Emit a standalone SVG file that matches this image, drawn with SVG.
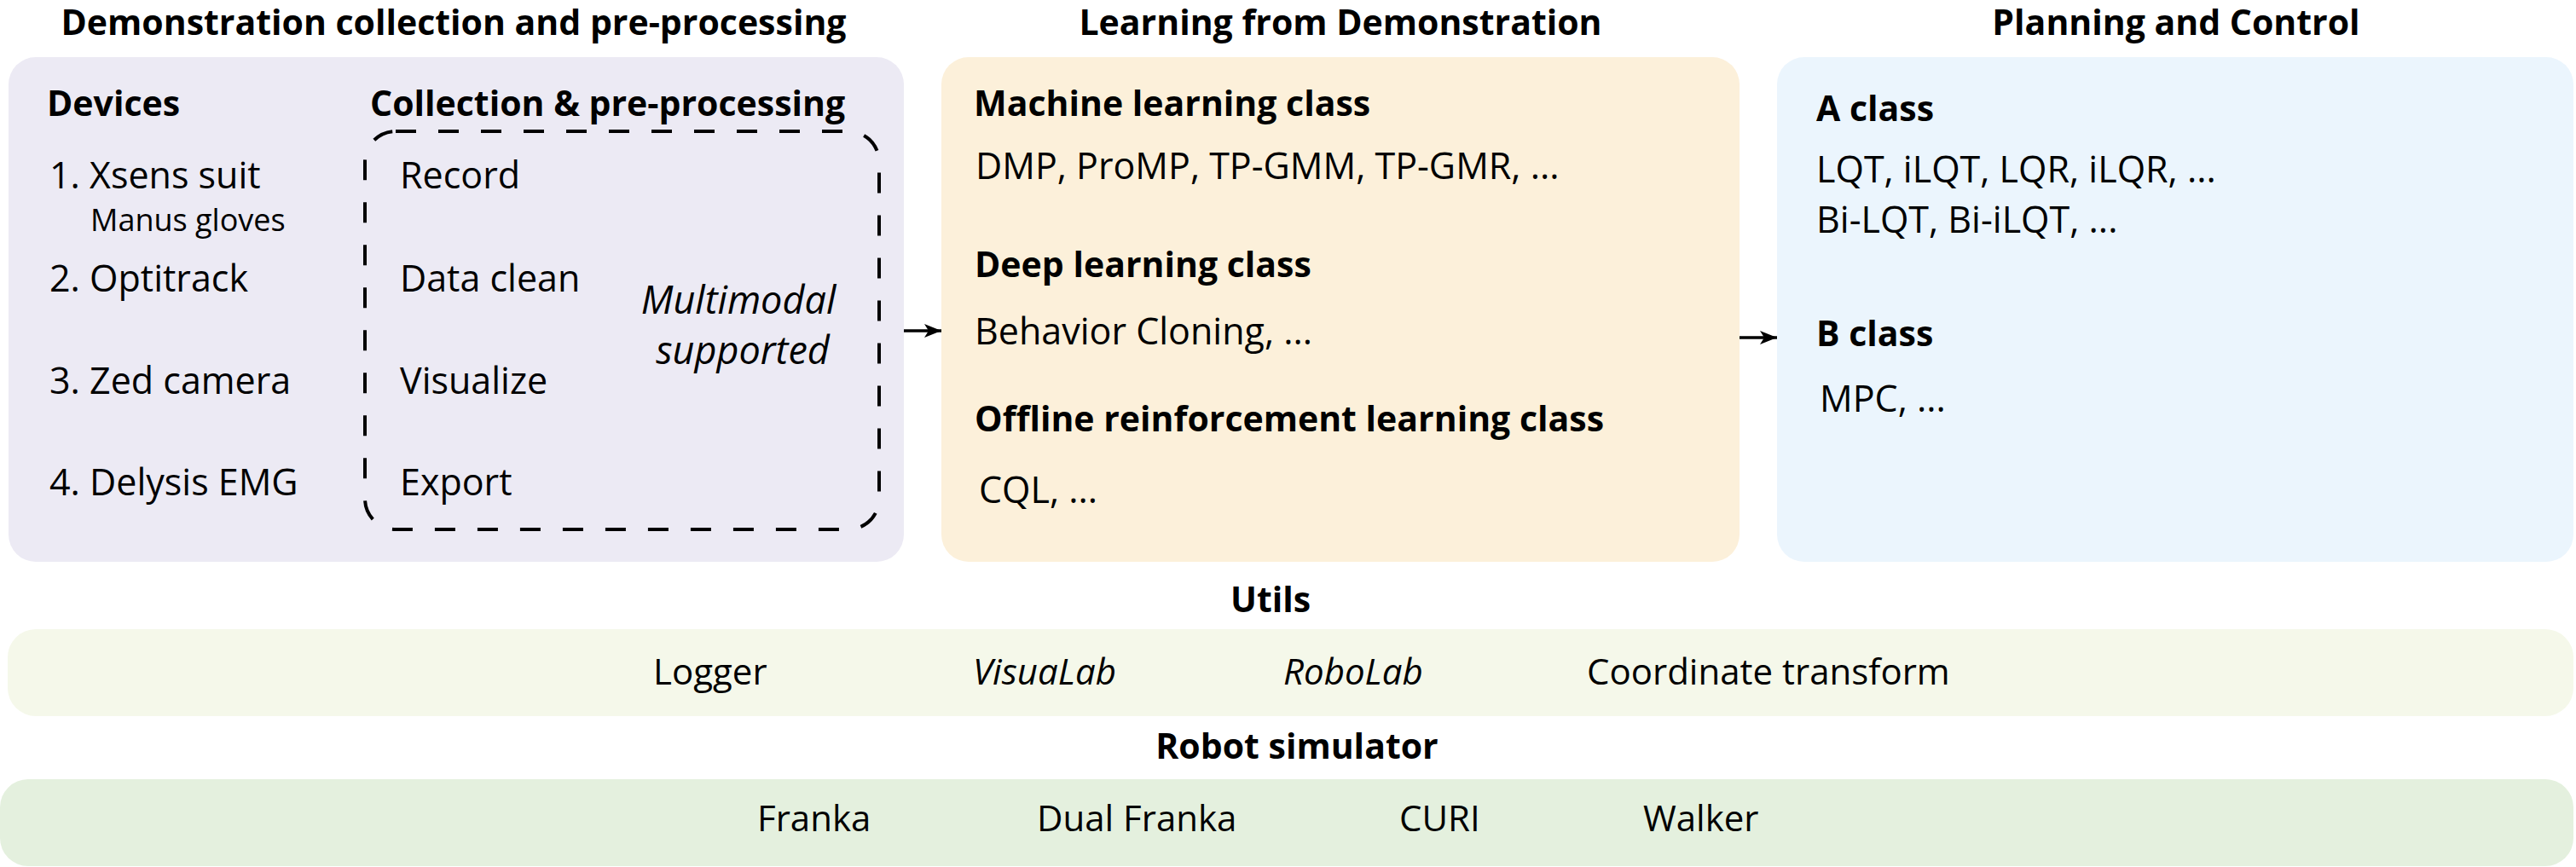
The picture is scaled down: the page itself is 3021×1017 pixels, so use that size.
<svg xmlns="http://www.w3.org/2000/svg" width="3021" height="1017" viewBox="0 0 3021 1017">
<defs>
<style>
text{font-family:"Open Sans",Lato,"Liberation Sans",sans-serif;fill:#000}
.h{font-weight:bold;font-size:41px}
.t{font-size:43px}
.s{font-size:36px}
.b{font-size:42px}
.i{font-style:italic}
.mi{font-style:italic;font-size:45px}
.m{text-anchor:middle}
.conn{stroke:#000;stroke-width:3.5;fill:none}
</style>
<marker id="ah" viewBox="0 0 20 16" refX="20" refY="8" markerWidth="20" markerHeight="16" markerUnits="userSpaceOnUse" orient="auto">
<path d="M0,0 L20,8 L0,16 L5,8 Z" fill="#000"/>
</marker>
</defs>
<rect width="3021" height="1017" fill="#fff"/>
<g id="title-collection"><text class="h m" x="532" y="41">Demonstration collection and pre-processing</text></g>
<g id="title-lfd"><text class="h m" x="1572" y="41">Learning from Demonstration</text></g>
<g id="title-planning"><text class="h m" x="2552" y="41">Planning and Control</text></g>
<g id="collection">
<rect x="10" y="67" width="1050" height="592" rx="32" fill="#ECEAF4"/>
<text class="h" x="55" y="136">Devices</text>
<text class="h" x="434" y="136">Collection &amp; pre-processing</text>
<text class="t" x="58" y="221">1. Xsens suit</text>
<text class="s" x="106" y="271">Manus gloves</text>
<text class="t" x="58" y="342">2. Optitrack</text>
<text class="t" x="58" y="462">3. Zed camera</text>
<text class="t" x="58" y="581">4. Delysis EMG</text>
<g id="preprocessing">
<rect x="428" y="154" width="603" height="467" rx="36" fill="none" stroke="#000" stroke-width="4" stroke-dasharray="24 26"/>
<text class="t" x="469" y="221">Record</text>
<text class="t" x="469" y="342">Data clean</text>
<text class="t" x="469" y="462">Visualize</text>
<text class="t" x="469" y="581">Export</text>
<text class="mi m" x="866" y="368">Multimodal</text>
<text class="mi m" x="871" y="427">supported</text>
</g>
</g>
<g id="lfd">
<rect x="1104" y="67" width="936" height="592" rx="32" fill="#FCF0DA"/>
<text class="h" x="1142" y="136">Machine learning class</text>
<text class="t" x="1144" y="210">DMP, ProMP, TP-GMM, TP-GMR, ...</text>
<text class="h" x="1143" y="325">Deep learning class</text>
<text class="t" x="1143" y="404">Behavior Cloning, ...</text>
<text class="h" x="1143" y="506">Offline reinforcement learning class</text>
<text class="t" x="1148" y="590">CQL, ...</text>
</g>
<g id="planning">
<rect x="2084" y="67" width="934" height="592" rx="32" fill="#EBF5FD"/>
<text class="h" x="2130" y="142">A class</text>
<text class="t" x="2130" y="214">LQT, iLQT, LQR, iLQR, ...</text>
<text class="t" x="2130" y="273">Bi-LQT, Bi-iLQT, ...</text>
<text class="h" x="2130" y="406">B class</text>
<text class="t" x="2134" y="483">MPC, ...</text>
</g>
<g id="utils">
<text class="h m" x="1490" y="718">Utils</text>
<rect x="9" y="738" width="3009" height="102" rx="33" fill="#F5F8EA"/>
<text class="b" x="766" y="803">Logger</text>
<text class="b i" x="1141" y="803">VisuaLab</text>
<text class="b i" x="1505" y="803">RoboLab</text>
<text class="b" x="1861" y="803">Coordinate transform</text>
</g>
<g id="simulator">
<text class="h m" x="1521" y="890">Robot simulator</text>
<rect x="0" y="914" width="3018" height="102" rx="33" fill="#E4F0DE"/>
<text class="b" x="888" y="975">Franka</text>
<text class="b" x="1216" y="975">Dual Franka</text>
<text class="b" x="1641" y="975">CURI</text>
<text class="b" x="1927" y="975">Walker</text>
</g>
<g id="connectors">
<line class="conn" x1="1060" y1="388" x2="1104" y2="388" marker-end="url(#ah)"/>
<line class="conn" x1="2040" y1="396" x2="2084" y2="396" marker-end="url(#ah)"/>
</g>
</svg>
